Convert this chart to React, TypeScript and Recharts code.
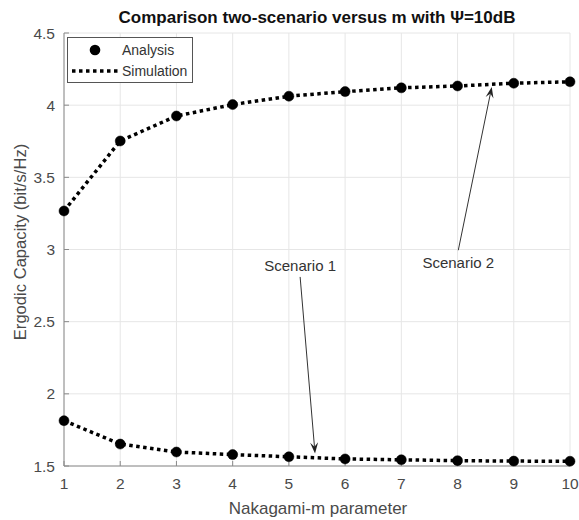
import { CartesianGrid, Legend, Line, LineChart, ReferenceLine, XAxis, YAxis } from "recharts";

// Nakagami-m parameter and ergodic capacity (bit/s/Hz)
const mValues = [1, 2, 3, 4, 5, 6, 7, 8, 9, 10];
const scenario1 = [1.814, 1.652, 1.597, 1.579, 1.564, 1.549, 1.543, 1.537, 1.534, 1.533];
const scenario2 = [3.267, 3.752, 3.925, 4.004, 4.062, 4.094, 4.12, 4.133, 4.152, 4.162];

const xTicks = [1, 2, 3, 4, 5, 6, 7, 8, 9, 10];
const yTicks = [1.5, 2, 2.5, 3, 3.5, 4, 4.5];

// annotation arrows: [tail, tip] in data units
const arrow1 = [{ x: 5.2, y: 2.81 }, { x: 5.465, y: 1.587 }];
const arrow2 = [{ x: 8.013, y: 2.995 }, { x: 8.608, y: 4.126 }];

const data = mValues.map((m, i) => ({ m, s1: scenario1[i], s2: scenario2[i] }));

const FONT = "'Liberation Sans', Arial, Helvetica, sans-serif";
const AXIS = "#8a8a8a";
const TEXT = "#4a4a4a";

// arrow with a notched head, and its text next to the tail
const makeArrow = (label: string, dy: number) => (props: any) => {
  const { x1, y1, x2, y2 } = props;
  const ang = Math.atan2(y2 - y1, x2 - x1);
  const len = 11;
  const half = 4;
  const bx = x2 - len * Math.cos(ang);
  const by = y2 - len * Math.sin(ang);
  const nx = x2 - len * 0.6 * Math.cos(ang);
  const ny = y2 - len * 0.6 * Math.sin(ang);
  const px = -Math.sin(ang) * half;
  const py = Math.cos(ang) * half;
  return (
    <g>
      <line x1={x1} y1={y1} x2={nx} y2={ny} stroke="#333" strokeWidth={1} />
      <path d={`M${x2},${y2} L${bx + px},${by + py} L${nx},${ny} L${bx - px},${by - py} Z`} fill="#222" />
      <text x={x1} y={y1 + dy} textAnchor="middle" dominantBaseline="central" fontSize={15} fontFamily={FONT} fill="#333">
        {label}
      </text>
    </g>
  );
};

const LegendBox = (props: any) => {
  const items = (props.payload || []).filter((p: any) => p.type !== "none");
  return (
    <svg width={127} height={47} style={{ display: "block" }}>
      <rect x={0.5} y={0.5} width={125} height={45} fill="#fff" stroke="#555" strokeWidth={1} />
      {items.map((it: any, i: number) => {
        const cy = i === 0 ? 13 : 34;
        return (
          <g key={it.value}>
            {it.value === "Analysis" ? (
              <circle cx={28} cy={cy} r={5.3} fill="#000" />
            ) : (
              <line x1={5} y1={cy} x2={52} y2={cy} stroke="#000" strokeWidth={3.5} strokeDasharray="3.5 3.5" />
            )}
            <text x={55} y={cy} dominantBaseline="central" fontSize={14} fontFamily={FONT} fill="#333">
              {it.value}
            </text>
          </g>
        );
      })}
    </svg>
  );
};

export default function App() {
  return (
    <div style={{ position: "absolute", left: 0, top: 0, width: 579, height: 520, background: "#fff", fontFamily: FONT }}>
      <div style={{ position: "absolute", left: 0, width: 634, top: 8, textAlign: "center", fontSize: 17, fontWeight: "bold", color: "#111", lineHeight: "20px" }}>
        Comparison two-scenario versus m with Ψ=10dB
      </div>
      <div
        style={{
          position: "absolute",
          left: 21,
          top: 242,
          transform: "translate(-50%, -50%) rotate(-90deg)",
          whiteSpace: "nowrap",
          fontSize: 16.6,
          color: TEXT,
        }}
      >
        Ergodic Capacity (bit/s/Hz)
      </div>
      <div style={{ position: "absolute", left: 318, top: 509, transform: "translate(-50%, -50%)", whiteSpace: "nowrap", fontSize: 17, color: TEXT }}>
        Nakagami-m parameter
      </div>
      <LineChart width={579} height={520} data={data} margin={{ top: 33, right: 9, bottom: 0, left: 0 }}>
        <CartesianGrid stroke="#e6e6e6" strokeWidth={1} vertical horizontal />
        <XAxis
          dataKey="m"
          type="number"
          domain={[1, 10]}
          ticks={xTicks}
          height={54}
          stroke={AXIS}
          tickSize={-5}
          tickMargin={17}
          tick={{ fill: TEXT, fontSize: 15.5, fontFamily: FONT }}
        />
        <XAxis
          xAxisId="top"
          orientation="top"
          dataKey="m"
          type="number"
          domain={[1, 10]}
          ticks={xTicks}
          height={0}
          stroke={AXIS}
          tickSize={-5}
          tickFormatter={() => ""}
        />
        <YAxis
          type="number"
          domain={[1.5, 4.5]}
          ticks={yTicks}
          width={64}
          stroke={AXIS}
          tickSize={-5}
          tickMargin={14}
          tick={{ fill: TEXT, fontSize: 15.5, fontFamily: FONT }}
        />
        <YAxis
          yAxisId="right"
          orientation="right"
          type="number"
          domain={[1.5, 4.5]}
          ticks={yTicks}
          width={0}
          stroke={AXIS}
          tickSize={-5}
          tickFormatter={() => ""}
        />
        <Legend
          layout="vertical"
          verticalAlign="middle"
          align="center"
          content={<LegendBox />}
          wrapperStyle={{ position: "absolute", left: 67, top: 37, width: 127, height: 47 }}
        />
        <Line name="Simulation" dataKey="s1" type="linear" stroke="#000" strokeWidth={3.5} strokeDasharray="3.5 3.5" dot={false} isAnimationActive={false} />
        <Line name="Simulation" dataKey="s2" type="linear" stroke="#000" strokeWidth={3.5} strokeDasharray="3.5 3.5" dot={false} legendType="none" isAnimationActive={false} />
        <Line name="Analysis" dataKey="s1" type="linear" stroke="none" dot={{ r: 5, fill: "#000", stroke: "#000", strokeWidth: 0.5 }} isAnimationActive={false} />
        <Line name="Analysis" dataKey="s2" type="linear" stroke="none" dot={{ r: 5, fill: "#000", stroke: "#000", strokeWidth: 0.5 }} legendType="none" isAnimationActive={false} />
        <ReferenceLine segment={arrow1} shape={makeArrow("Scenario 1", -11)} ifOverflow="visible" />
        <ReferenceLine segment={arrow2} shape={makeArrow("Scenario 2", 12)} ifOverflow="visible" />
      </LineChart>
    </div>
  );
}
